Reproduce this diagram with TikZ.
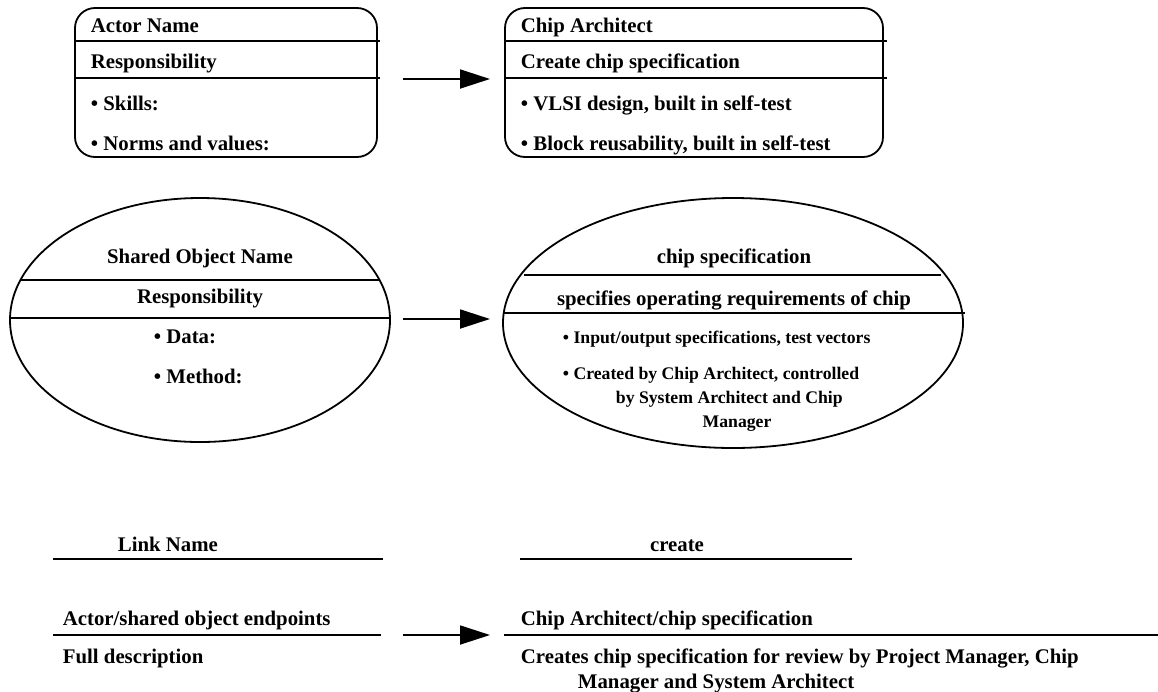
\documentclass[tikz,border=0pt]{standalone}
\usepackage{fontspec}
\setmainfont{Liberation Serif}
\usetikzlibrary{shapes.geometric,arrows.meta}
\begin{document}
\begin{tikzpicture}[x=1pt,y=-1pt,
  line width=1.8pt,
  txt/.style={inner sep=0pt,font=\fontsize{20.8}{25}\selectfont\bfseries},
  small/.style={inner sep=0pt,font=\fontsize{17.7}{24}\selectfont\bfseries},
  card/.style={draw,rounded corners=20pt,inner sep=0pt},
  blob/.style={draw,ellipse,inner sep=0pt},
  flow/.style={-{Triangle[length=30pt,width=19pt]}}]
\useasboundingbox (0,0) rectangle (1158,691);

% ---- actor cards ----
\node[card,minimum width=302pt,minimum height=149pt] (actor) at (226,82.5) {};
\draw (75,41) -- (380,41);
\draw (75,78) -- (380,78);
\node[txt,anchor=base west] (an) at (90,32) {Actor Name};
\node[txt,anchor=base west] (ar) at (90,68) {Responsibility};
\node[txt,anchor=base west] (as) at (90,110) {\textbullet\ Skills:};
\node[txt,anchor=base west] (av) at (90,150) {\textbullet\ Norms and values:};

\node[card,minimum width=378pt,minimum height=149pt] (chip) at (694,82.5) {};
\draw (505,41) -- (887,41);
\draw (505,78) -- (887,78);
\node[txt,anchor=base west] (cn) at (520,32) {Chip Architect};
\node[txt,anchor=base west] (cr) at (520,68) {Create chip specification};
\node[txt,anchor=base west] (cs) at (520,110) {\textbullet\ VLSI design, built in self-test};
\node[txt,anchor=base west] (cv) at (520,150) {\textbullet\ Block reusability, built in self-test};

\coordinate (a1s) at (403,79);
\coordinate (a1e) at (490,79);
\draw[flow] (a1s) -- (a1e);

% ---- shared objects ----
\node[blob,minimum width=380pt,minimum height=244pt] (shared) at (200,320) {};
\draw (20,280) -- (379,280);
\draw (10,318) -- (391,318);
\node[txt,anchor=base] (sn) at (200,263) {Shared Object Name};
\node[txt,anchor=base] (sr) at (200,303) {Responsibility};
\node[txt,anchor=base west] (sd) at (153,343) {\textbullet\ Data:};
\node[txt,anchor=base west] (sm) at (153,383) {\textbullet\ Method:};

\node[blob,minimum width=460pt,minimum height=250pt] (spec) at (733,323) {};
\draw (524,275) -- (941,275);
\draw (503,313) -- (965,313);
\node[txt,anchor=base] (pn) at (734,263) {chip specification};
\node[txt,anchor=base] (pr) at (734,305) {specifies operating requirements of chip};
\node[small,anchor=base west] (pd) at (562,343) {\textbullet\ Input/output specifications, test vectors};
\node[small,anchor=base west] (pm1) at (562,379) {\textbullet\ Created by Chip Architect, controlled};
\node[small,anchor=base west] (pm2) at (615,403) {by System Architect and Chip};
\node[small,anchor=base] (pm3) at (737,427) {Manager};

\coordinate (a2s) at (403,319);
\coordinate (a2e) at (490,319);
\draw[flow] (a2s) -- (a2e);

% ---- links ----
\node[txt,anchor=base west] (ln) at (117,551) {Link Name};
\draw (53,559) -- (383,559);
\node[txt,anchor=base west] (le) at (62,625) {Actor/shared object endpoints};
\draw (53,635) -- (381,635);
\node[txt,anchor=base west] (ld) at (62,663) {Full description};

\node[txt,anchor=base] (kn) at (677,551) {create};
\draw (520,559) -- (852,559);
\node[txt,anchor=base west] (ke) at (520,625) {Chip Architect/chip specification};
\draw (504,635) -- (1158,635);
\node[txt,anchor=base west] (kd1) at (520,663) {Creates chip specification for review by Project Manager, Chip};
\node[txt,anchor=base west] (kd2) at (577,688) {Manager and System Architect};

\coordinate (a3s) at (403,635);
\coordinate (a3e) at (490,635);
\draw[flow] (a3s) -- (a3e);
\end{tikzpicture}
\end{document}
